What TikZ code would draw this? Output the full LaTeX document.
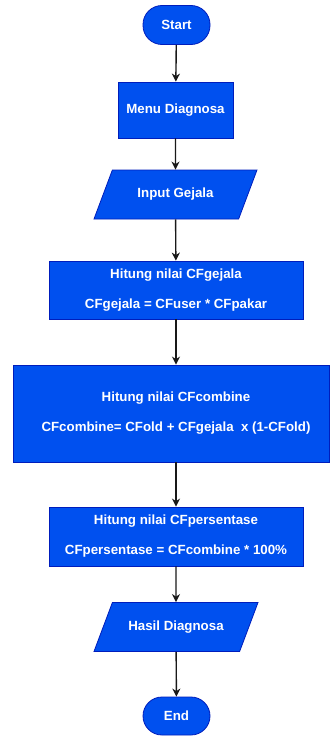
\documentclass[tikz,border=0pt]{standalone}
\usepackage{xcolor}
\usepackage{tikz}
\usepackage{fontspec}
\setmainfont{Liberation Sans}
\usetikzlibrary{
  arrows.meta,
  shapes,
  shapes.geometric,
  positioning,
  calc
}
\definecolor{fcFill}{HTML}{0050EF}
\definecolor{fcLine}{HTML}{001DBC}
\tikzset{
  fcnode/.style={
    draw=fcLine, fill=fcFill, line width=0.8pt, text=white, align=center,
    font=\fontsize{13.3}{30}\selectfont\bfseries, inner sep=0pt
  },
  terminal/.style={fcnode, rounded corners=19pt, minimum width=67pt, minimum height=39pt},
  procbox/.style={fcnode, minimum width=254pt, minimum height=58pt},
  iobox/.style={
    fcnode, trapezium, trapezium left angle=68.8, trapezium right angle=111.2,
    trapezium stretches body, inner ysep=17.5pt, inner xsep=10pt,
    minimum width=163pt, minimum height=49pt
  },
  flow/.style={-{Stealth[length=8pt, width=8pt, inset=2.5pt]}, line width=1.4pt, black!90}
}
\begin{document}
\begin{tikzpicture}[x=1pt, y=-1pt]
  \useasboundingbox[fill=white] (0,0) rectangle (330,736);
  \node[terminal] (start) at (176.5,25) {Start};
  \node[procbox, minimum width=115pt, minimum height=56pt] (menu) at (175.5,110) {Menu Diagnosa};
  \node[iobox] (input) at (175.5,194.5) {Input Gejala};
  \node[procbox] (gejala) at (176,290) {Hitung nilai CFgejala\\CFgejala = CFuser * CFpakar};
  \node[procbox, minimum width=316pt, minimum height=97pt] (combine) at (171,413.5)
    {\hspace*{10pt}Hitung nilai CFcombine\\\hspace*{10pt}CFcombine= CFold + CFgejala \ x (1-CFold)};
  \node[procbox, minimum height=59pt] (persen) at (176,536.5) {Hitung nilai CFpersentase\\CFpersentase = CFcombine * 100\%};
  \node[iobox, minimum width=164pt] (hasil) at (176,627) {Hasil Diagnosa};
  \node[terminal, minimum height=38pt] (end) at (176.5,716) {End};
  \draw[flow] (start) -- (menu);
  \draw[flow] (menu) -- (input);
  \draw[flow] (input) -- (gejala);
  \draw[flow] (gejala.south) -- (gejala.south |- combine.north);
  \draw[flow] (gejala.south |- combine.south) -- (persen.north);
  \draw[flow] (persen) -- (hasil);
  \draw[flow] (hasil) -- (end);
\end{tikzpicture}
\end{document}
